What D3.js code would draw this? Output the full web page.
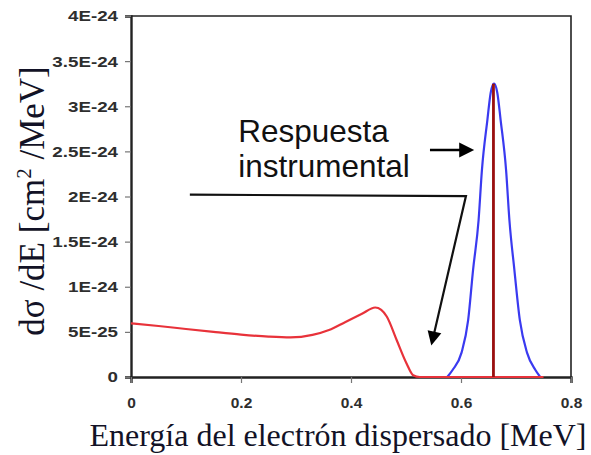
<!DOCTYPE html>
<html>
<head>
<meta charset="utf-8">
<script src="https://cdn.jsdelivr.net/npm/d3@7"></script>
<style>
  html, body { margin: 0; padding: 0; background: #fff; }
  svg { display: block; }
</style>
</head>
<body>
<svg id="chart" width="591" height="455"></svg>
<script>
// ---- Data ----
// Compton continuum (red): electron energy [MeV] and dσ/dE [cm²/MeV]
const comptonE     = [0.000, 0.050, 0.100, 0.150, 0.200, 0.250, 0.290, 0.330, 0.360, 0.390, 0.420, 0.444, 0.455, 0.465, 0.483, 0.501, 0.513, 0.525, 0.600, 0.750];
const comptonSigma = [0.595e-24, 0.565e-24, 0.532e-24, 0.500e-24, 0.470e-24, 0.447e-24, 0.438e-24, 0.466e-24, 0.520e-24, 0.610e-24, 0.700e-24, 0.770e-24, 0.745e-24, 0.670e-24, 0.410e-24, 0.150e-24, 0.020e-24, 0.000, 0.000, 0.000];

// Instrumental response (blue)
const responseE     = [0.575, 0.585, 0.601, 0.613, 0.622, 0.632, 0.638, 0.648, 0.654, 0.660, 0.666, 0.672, 0.682, 0.688, 0.697, 0.707, 0.720, 0.735, 0.744];
const responseSigma = [0.000, 0.080e-24, 0.270e-24, 0.630e-24, 1.190e-24, 1.740e-24, 2.290e-24, 2.850e-24, 3.150e-24, 3.250e-24, 3.150e-24, 2.850e-24, 2.290e-24, 1.740e-24, 1.190e-24, 0.630e-24, 0.270e-24, 0.080e-24, 0.000];

// Photopeak line (dark red)
const peakE = [0.659];
const peakSigma = [3.25e-24];

// Axes
const xTicks = [0, 0.2, 0.4, 0.6, 0.8];
const xTickLabels = ["0", "0.2", "0.4", "0.6", "0.8"];
const yTicks = [0, 0.5e-24, 1e-24, 1.5e-24, 2e-24, 2.5e-24, 3e-24, 3.5e-24, 4e-24];
const yTickLabels = ["0", "5E-25", "1E-24", "1.5E-24", "2E-24", "2.5E-24", "3E-24", "3.5E-24", "4E-24"];

const xTitle = "Energía del electrón dispersado [MeV]";
const annotationLines = ["Respuesta", "instrumental"];

// Annotation geometry in data units
const arrow1 = { x1: 0.5436, y1: 2.515e-24, x2: 0.624, y2: 2.515e-24 };
const pointer = [ [0.107, 2.02e-24], [0.609, 2.005e-24], [0.546, 0.35e-24] ];
const textPos = { x: 0.195, y1: 2.60e-24, y2: 2.215e-24 };

// ---- Scales ----
const svg = d3.select("#chart");
const x = d3.scaleLinear().domain([0, 0.8]).range([131, 571]);
const y = d3.scaleLinear().domain([0, 4e-24]).range([377, 16]);

// Frame (top & right)
svg.append("path")
  .attr("d", `M${x(0)},${y(4e-24)} H${x(0.8)} V${y(0)}`)
  .attr("fill", "none").attr("stroke", "#222").attr("stroke-width", 1.6);

// Y axis (ticks via d3 axis, labels drawn separately so they can be stretched)
const yAxis = d3.axisLeft(y).tickValues(yTicks)
  .tickFormat(() => "").tickSizeOuter(0).tickSize(6);
const gy = svg.append("g").attr("transform", `translate(${x(0)},0)`).call(yAxis);
gy.select(".domain").attr("stroke", "#222").attr("stroke-width", 2.4);
gy.selectAll(".tick line").attr("stroke", "#777").attr("stroke-width", 1.2);

svg.append("g").selectAll("text").data(yTicks).enter().append("text")
  .attr("transform", d => `translate(${x(0) - 13},${y(d)}) scale(1.25,1)`)
  .attr("text-anchor", "end").attr("dy", "0.36em")
  .attr("font-family", "Liberation Sans, Arial, sans-serif")
  .attr("font-weight", "bold").attr("font-size", 15).attr("fill", "#2e2e2e")
  .text((d, i) => yTickLabels[i]);

// X axis
const xAxis = d3.axisBottom(x).tickValues(xTicks)
  .tickFormat((d, i) => xTickLabels[i]).tickSizeOuter(0).tickSize(6).tickPadding(14);
const gx = svg.append("g").attr("transform", `translate(0,${y(0)})`).call(xAxis);
gx.select(".domain").attr("stroke", "#222").attr("stroke-width", 2.4);
gx.selectAll(".tick line").attr("stroke", "#777").attr("stroke-width", 1.2);
gx.selectAll(".tick text")
  .attr("font-family", "Liberation Sans, Arial, sans-serif")
  .attr("font-weight", "bold").attr("font-size", 15.5).attr("fill", "#2e2e2e");

// Curves
const line = d3.line().curve(d3.curveMonotoneX);

svg.append("path")
  .attr("d", line(responseE.map((e, i) => [x(e), y(responseSigma[i])])))
  .attr("fill", "none").attr("stroke", "#3a3af0").attr("stroke-width", 2.2);

svg.append("path")
  .attr("d", line(comptonE.map((e, i) => [x(e), y(comptonSigma[i])])))
  .attr("fill", "none").attr("stroke", "#e8323a").attr("stroke-width", 2.2);

svg.selectAll(".peak").data(peakE).enter().append("line")
  .attr("class", "peak")
  .attr("x1", d => x(d)).attr("x2", d => x(d))
  .attr("y1", y(0)).attr("y2", (d, i) => y(peakSigma[i]))
  .attr("stroke", "#9a0f0f").attr("stroke-width", 2.8);

// Annotation
function arrowHead(xs, ys, xe, ye, len, half) {
  const dx = xe - xs, dy = ye - ys, L = Math.hypot(dx, dy);
  const ux = dx / L, uy = dy / L;
  const bx = xe - ux * len, by = ye - uy * len;
  return `M${xe},${ye} L${bx - uy * half},${by + ux * half} L${bx + uy * half},${by - ux * half} Z`;
}

const a1 = [x(arrow1.x1), y(arrow1.y1), x(arrow1.x2), y(arrow1.y2)];
svg.append("line").attr("x1", a1[0]).attr("y1", a1[1]).attr("x2", a1[2] - 10).attr("y2", a1[3])
  .attr("stroke", "#000").attr("stroke-width", 2.6);
svg.append("path").attr("d", arrowHead(a1[0], a1[1], a1[2], a1[3], 15, 7.5)).attr("fill", "#000");

const pp = pointer.map(p => [x(p[0]), y(p[1])]);
const n = pp.length;
const dxl = pp[n-1][0] - pp[n-2][0], dyl = pp[n-1][1] - pp[n-2][1], Ll = Math.hypot(dxl, dyl);
const lineEnd = [pp[n-1][0] - dxl / Ll * 10, pp[n-1][1] - dyl / Ll * 10];
svg.append("path")
  .attr("d", d3.line()([...pp.slice(0, n-1), lineEnd]))
  .attr("fill", "none").attr("stroke", "#111").attr("stroke-width", 2.2).attr("stroke-linejoin", "miter");
svg.append("path").attr("d", arrowHead(pp[n-2][0], pp[n-2][1], pp[n-1][0], pp[n-1][1], 14, 7)).attr("fill", "#000");

svg.append("text").attr("x", x(textPos.x)).attr("y", y(textPos.y1))
  .attr("font-family", "Liberation Sans, Arial, sans-serif").attr("font-size", 31.5).attr("fill", "#111")
  .text(annotationLines[0]);
svg.append("text").attr("x", x(textPos.x)).attr("y", y(textPos.y2))
  .attr("font-family", "Liberation Sans, Arial, sans-serif").attr("font-size", 31.5).attr("fill", "#111")
  .text(annotationLines[1]);

// Axis titles
svg.append("text")
  .attr("x", 338).attr("y", 446)
  .attr("text-anchor", "middle")
  .attr("font-family", "Liberation Serif, Times New Roman, serif")
  .attr("font-size", 32).attr("fill", "#121226")
  .text(xTitle);

const yt = svg.append("text")
  .attr("transform", "translate(44,201) rotate(-90)")
  .attr("text-anchor", "middle")
  .attr("font-family", "Liberation Serif, Times New Roman, serif")
  .attr("font-size", 35).attr("fill", "#121226");
yt.append("tspan").text("dσ /dE [cm");
yt.append("tspan").attr("font-size", 21).attr("dy", -13).text("2");
yt.append("tspan").attr("dy", 13).text(" /MeV]");
</script>
</body>
</html>
